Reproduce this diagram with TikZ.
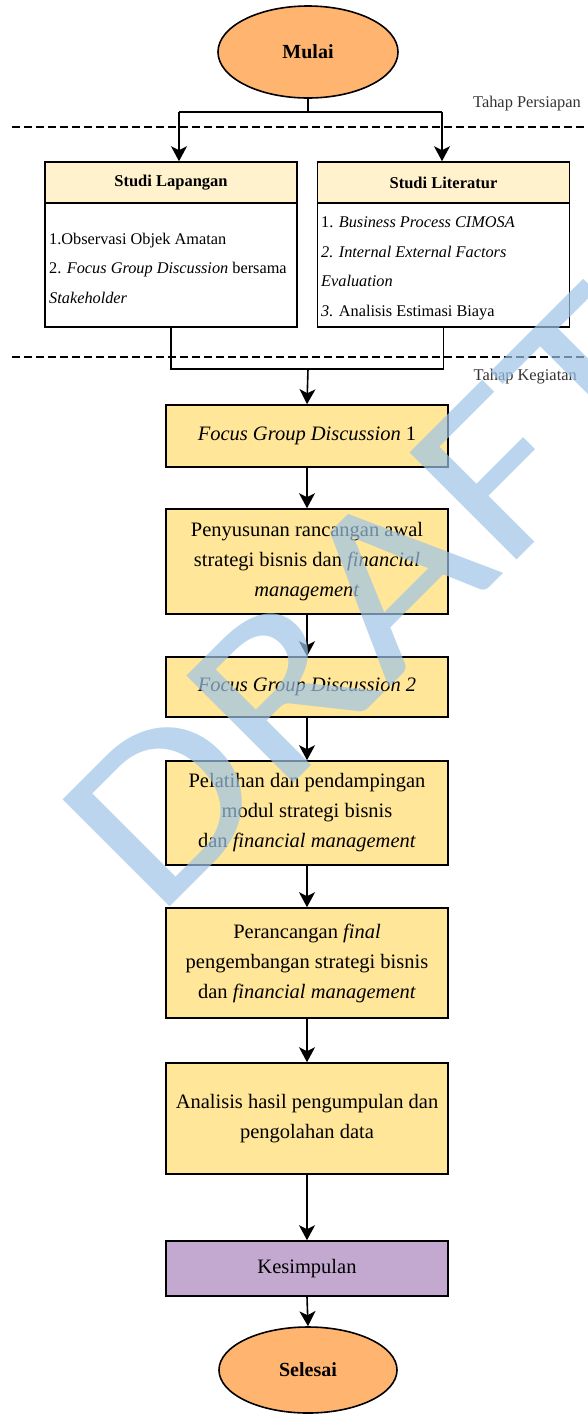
\documentclass[tikz,border=0pt]{standalone}
\usepackage{fontspec}
\setmainfont{Liberation Serif}
\newfontfamily\wmfont{Carlito}[FakeStretch=1.2]
\usetikzlibrary{arrows.meta,shapes.geometric}
\definecolor{orangefill}{HTML}{FFB570}
\definecolor{mainfill}{HTML}{FFE699}
\definecolor{headfill}{HTML}{FFF2CC}
\definecolor{purplefill}{HTML}{C3A9D0}
\definecolor{wmblue}{HTML}{9DC3E6}
\definecolor{phasegray}{HTML}{333333}
\begin{document}
\begin{tikzpicture}[x=1pt,y=-1pt,
  box/.style={draw=black, line width=1.6pt, fill=mainfill, minimum width=282pt, align=center, inner sep=0pt, font=\fontsize{20.5}{30}\selectfont},
  arr/.style={line width=1.6pt, -{Stealth[length=15pt,width=16pt,inset=4pt]}},
  conn/.style={line width=1.6pt},
  term/.style={ellipse, draw=black, line width=1.6pt, fill=orangefill, minimum width=180pt, minimum height=92pt, inner sep=0pt, font=\fontsize{20}{24}\selectfont\bfseries},
  phaseline/.style={line width=1.6pt, dash pattern=on 7.5pt off 4.5pt},
  phaselabel/.style={anchor=east, inner sep=0pt, text=phasegray, font=\fontsize{16.4}{20}\selectfont},
  outerbox/.style={draw=black, line width=1.6pt, fill=white, minimum width=252pt, minimum height=165pt, inner sep=0pt},
  headbox/.style={draw=black, line width=1.6pt, fill=headfill, minimum width=252pt, minimum height=41pt, inner sep=0pt, font=\fontsize{16.5}{20}\selectfont\bfseries},
  bodytext/.style={anchor=west, align=left, inner sep=0pt, font=\fontsize{16.3}{29.5}\selectfont}
]
\useasboundingbox (0,0) rectangle (588,1414);

% phase separators
\coordinate (d1a) at (12,127);
\coordinate (d1b) at (588,127);
\coordinate (d2a) at (12,357);
\coordinate (d2b) at (588,357);
\draw[phaseline] (d1a) -- (d1b);
\draw[phaseline] (d2a) -- (d2b);
\node[phaselabel] (persiapan) at (581,104) {Tahap Persiapan};
\node[phaselabel] (kegiatan) at (577,377) {Tahap Kegiatan};

% start
\node[term] (mulai) at (308,52) {Mulai};

% preparation boxes
\node[outerbox] (lap) at (171,244.5) {};
\node[headbox, anchor=north] (laph) at (lap.north) {Studi Lapangan};
\node[bodytext] (lapb) at (49,268) {1.Observasi Objek Amatan\\2. \textit{Focus Group Discussion} bersama\\\textit{Stakeholder}};

\node[outerbox] (lit) at (443.5,244.5) {};
\node[headbox, anchor=north] (lith) at (lit.north) {Studi Literatur};
\node[bodytext] (litb) at (321,268.5) {1. \textit{Business Process CIMOSA}\\\textit{2. Internal External Factors}\\\textit{Evaluation}\\\textit{3.} Analisis Estimasi Biaya};

% branch from start
\coordinate (br) at (308,112);
\coordinate (brl) at (179,112);
\coordinate (brr) at (442,112);
\draw[conn] (mulai.south) -- (br);
\draw[conn] (brl) -- (brr);
\draw[arr] (brl) -- (brl |- laph.north);
\draw[arr] (brr) -- (brr |- lith.north);

% activity boxes
\node[box, minimum height=62pt] (fgd1) at (307,436) {\textit{Focus Group Discussion} 1};
\node[box, minimum height=105pt] (awal) at (307,561.5) {Penyusunan rancangan awal\\strategi bisnis dan \textit{financial}\\\textit{management}};
\node[box, minimum height=60pt] (fgd2) at (307,687) {\textit{Focus Group Discussion 2}};
\node[box, minimum height=104pt] (latih) at (307,813) {Pelatihan dan pendampingan\\modul strategi bisnis\\dan \textit{financial management}};
\node[box, minimum height=110pt] (final) at (307,963) {Perancangan \textit{final}\\pengembangan strategi bisnis\\dan \textit{financial management}};
\node[box, minimum height=111pt] (analisis) at (307,1118.5) {Analisis hasil pengumpulan dan\\pengolahan data};
\node[box, fill=purplefill, minimum height=55pt] (kes) at (307,1268.5) {Kesimpulan};
\node[term, minimum width=178pt, minimum height=86pt] (selesai) at (308,1370) {Selesai};

% merge
\coordinate (mg) at (308,369);
\draw[conn] (lap.south) |- (mg) -| (lit.south);
\draw[arr] (mg) -- (fgd1.north);

\draw[arr] (fgd1) -- (awal);
\draw[arr] (awal) -- (fgd2);
\draw[arr] (fgd2) -- (latih);
\draw[arr] (latih) -- (final);
\draw[arr] (final) -- (analisis);
\draw[arr] (analisis) -- (kes);
\draw[arr] (kes.south) -- (selesai.north);

% watermark
\begin{scope}
\clip (0,0) rectangle (588,1414);
\node[rotate=45, anchor=base west, inner sep=0pt, text=wmblue, text opacity=0.7, font=\wmfont\fontsize{236}{236}\selectfont] (wm) at (156,921) {DRAFT};
\end{scope}
\end{tikzpicture}
\end{document}
